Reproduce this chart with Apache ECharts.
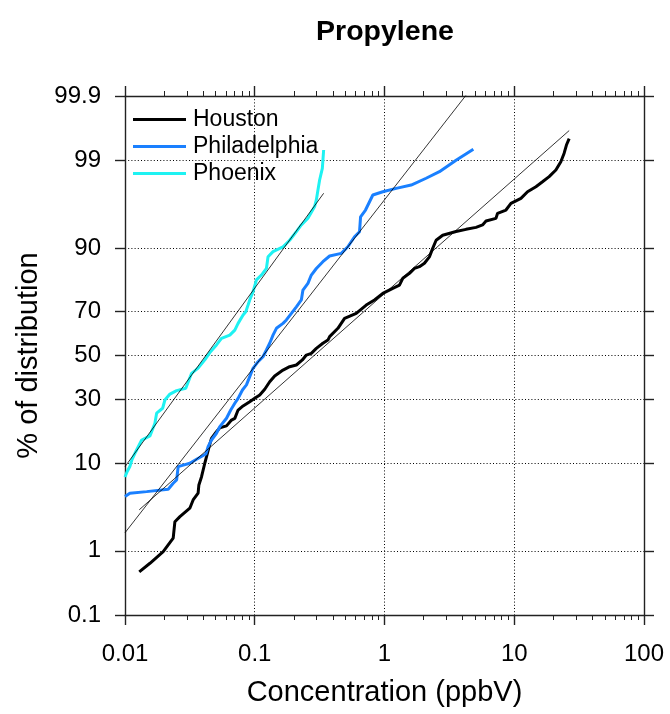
<!DOCTYPE html>
<html>
<head>
<meta charset="utf-8">
<script src="https://cdn.jsdelivr.net/npm/echarts@6/dist/echarts.min.js"></script>
<style>html,body{margin:0;padding:0;background:#fff}#c{width:670px;height:714px}</style>
</head>
<body>
<div id="c"></div>
<script>
// ---- data (concentration in ppbV, cumulative % of distribution) ----
const houstonX = [0.01288,0.01557,0.0197,0.02352,0.02424,0.0265,0.0316,0.0335,0.0366,0.0371,0.0389,0.0412,0.0425,0.0445,0.0464,0.0507,0.0538,0.0606,0.0662,0.0702,0.0744,0.0813,0.0915,0.100,0.1093,0.1194,0.1304,0.1425,0.1651,0.1858,0.2093,0.2327,0.2499,0.2729,0.2983,0.335,0.3664,0.3776,0.4375,0.4924,0.6057,0.7228,0.8372,0.970,1.158,1.304,1.383,1.557,1.701,1.858,2.031,2.218,2.352,2.499,2.809,3.56,4.25,5.076,5.70,6.057,7.228,7.44,8.63,9.43,11.26,12.66,14.69,16.51,18.58,20.93,22.86,24.24,25.25,26.5];
const houstonP = [0.50,0.668,0.975,1.48,2.39,2.75,3.45,4.27,5.05,6.16,7.45,9.97,11.41,13.88,16.2,18.2,19.5,20.1,22.1,22.7,25.8,27.4,29.1,30.5,31.9,34.4,37.75,40.4,43.1,44.7,45.5,47.9,50.2,51.0,53.4,55.8,57.3,58.9,62.7,67.1,69.2,72.6,74.6,77.0,78.8,79.9,82.1,83.6,85.0,85.5,86.4,88.0,89.9,91.5,92.4,93.0,93.35,93.65,94.0,94.53,94.88,95.48,95.84,96.5,96.93,97.44,97.78,98.07,98.34,98.64,98.95,99.20,99.39,99.51];

const phillyX = [0.0100,0.0109,0.01469,0.02153,0.02352,0.0250,0.0257,0.0273,0.0316,0.0356,0.0420,0.0437,0.0464,0.0507,0.0538,0.0606,0.0653,0.0702,0.0744,0.0804,0.0863,0.0915,0.0970,0.1060,0.1158,0.1230,0.1304,0.1383,0.1469,0.1651,0.1753,0.1916,0.2093,0.2286,0.2352,0.257,0.2729,0.2983,0.335,0.3776,0.4645,0.522,0.5875,0.642,0.654,0.714,0.813,0.970,1.23,1.605,2.093,2.65,3.56,4.84];
const phillyP = [4.65,5.05,5.25,5.56,6.41,6.92,9.28,9.48,9.97,10.83,12.04,13.88,15.72,17.72,19.83,22.73,25.83,28.47,30.5,34.06,36.3,40.05,43.95,47.05,49.4,52.6,55.8,59.6,62.7,64.9,66.4,69.2,71.9,74.6,78.2,80.5,83.1,85.0,86.8,88.2,88.8,90.23,92.13,92.98,95.07,95.84,97.2,97.44,97.67,97.88,98.26,98.57,99.0,99.30];

const phoenixX = [0.0100,0.0104,0.0109,0.0113,0.0121,0.01345,0.01557,0.0170,0.01753,0.0195,0.0203,0.0222,0.0250,0.0294,0.0326,0.0366,0.0412,0.0456,0.0507,0.0554,0.0642,0.0702,0.0744,0.0813,0.0853,0.0888,0.0915,0.0970,0.1031,0.1126,0.123,0.1266,0.1383,0.1651,0.1858,0.2093,0.2286,0.257,0.2894,0.2983,0.307,0.3162,0.3318,0.3396];
const phoenixP = [7.4,8.35,9.3,10.7,12.6,15.7,16.9,21.0,24.6,26.5,29.8,32.3,33.8,34.8,41.6,44.0,47.9,51.8,55.0,58.1,59.6,61.9,64.9,68.5,69.9,72.6,74.6,77.6,81.6,83.1,85.0,88.0,89.2,90.2,91.5,93.0,94.0,94.9,96.2,96.8,97.56,98.17,98.71,99.28];

// fitted lognormal lines (end points)
const houstonFitX = [0.01288, 26.5];
const houstonFitP = [3.31, 99.63];
const phillyFitX = [0.0100, 4.84];
const phillyFitP = [1.74, 99.934];
const phoenixFitX = [0.0100, 0.3396];
const phoenixFitP = [9.28, 97.33];

const seriesNames = ['Houston', 'Philadelphia', 'Phoenix'];
const yTickPct = [0.1, 1, 10, 30, 50, 70, 90, 99, 99.9];
const yTickLabels = ['0.1', '1', '10', '30', '50', '70', '90', '99', '99.9'];
const xMinorTicks = [0.02,0.03,0.04,0.05,0.06,0.07,0.08,0.09,0.2,0.3,0.4,0.5,0.6,0.7,0.8,0.9,2,3,4,5,6,7,8,9,20,30,40,50,60,70,80,90];

// ---- probability (normal quantile) transform ----
function normInv(p) {
  const a = [-3.969683028665376e+01, 2.209460984245205e+02, -2.759285104469687e+02, 1.383577518672690e+02, -3.066479806614716e+01, 2.506628277459239e+00];
  const b = [-5.447609879822406e+01, 1.615858368580409e+02, -1.556989798598866e+02, 6.680131188771972e+01, -1.328068155288572e+01];
  const c = [-7.784894002430293e-03, -3.223964580411365e-01, -2.400758402150994e+00, -2.549732539343734e+00, 4.374664141464968e+00, 2.938163982698783e+00];
  const d = [7.784695709041462e-03, 3.224671290700398e-01, 2.445134137142996e+00, 3.754408661907416e+00];
  const plow = 0.02425;
  let q, r;
  if (p < plow) {
    q = Math.sqrt(-2 * Math.log(p));
    return (((((c[0]*q+c[1])*q+c[2])*q+c[3])*q+c[4])*q+c[5]) / ((((d[0]*q+d[1])*q+d[2])*q+d[3])*q+1);
  } else if (p <= 1 - plow) {
    q = p - 0.5; r = q * q;
    return (((((a[0]*r+a[1])*r+a[2])*r+a[3])*r+a[4])*r+a[5])*q / (((((b[0]*r+b[1])*r+b[2])*r+b[3])*r+b[4])*r+1);
  } else {
    q = Math.sqrt(-2 * Math.log(1 - p));
    return -(((((c[0]*q+c[1])*q+c[2])*q+c[3])*q+c[4])*q+c[5]) / ((((d[0]*q+d[1])*q+d[2])*q+d[3])*q+1);
  }
}
const toZ = pct => normInv(pct / 100);
const pairs = (xs, ps) => xs.map((x, i) => [x, toZ(ps[i])]);

const yTickZ = yTickPct.map(toZ);
const zMin = yTickZ[0], zMax = yTickZ[yTickZ.length - 1];
const yLabelFmt = v => {
  let best = 0;
  yTickZ.forEach((z, i) => { if (Math.abs(z - v) < Math.abs(yTickZ[best] - v)) best = i; });
  return yTickLabels[best];
};

const FONT = "'Liberation Sans', Arial, sans-serif";
const dotted = { show: true, lineStyle: { color: '#000', width: 1, type: [1, 2.2] } };
const axisLineStyle = { show: true, onZero: false, lineStyle: { color: '#222', width: 1.4 } };
const noLine = { show: false, onZero: false };

const chart = echarts.init(document.getElementById('c'), null, { renderer: 'canvas' });

const colors = ['#000000', '#1a80ff', '#1ef2f2'];

chart.setOption({
  animation: false,
  backgroundColor: '#fff',
  title: {
    text: 'Propylene', left: 380, top: 13, textAlign: 'center',
    textStyle: { fontFamily: FONT, fontSize: 28.5, fontWeight: 'bold', color: '#000' }
  },
  legend: {
    data: seriesNames, orient: 'vertical', left: 128, top: 103,
    icon: 'rect', itemWidth: 53, itemHeight: 3, itemGap: 4,
    textStyle: { fontFamily: FONT, fontSize: 23, color: '#000', padding: [0, 0, 0, 2] }
  },
  grid: { left: 125, right: 26, top: 96, bottom: 99, containLabel: false },
  xAxis: [
    { type: 'log', logBase: 10, min: 0.01, max: 100, position: 'bottom',
      name: 'Concentration (ppbV)', nameLocation: 'middle', nameGap: 63,
      nameTextStyle: { fontFamily: FONT, fontSize: 29, color: '#000' },
      axisLine: axisLineStyle,
      axisTick: { show: true, length: 10, lineStyle: { color: '#222', width: 1.4 } },
      axisLabel: { fontFamily: FONT, fontSize: 24, color: '#000', margin: 27,
        formatter: v => String(+(+v).toPrecision(3)) },
      splitLine: dotted },
    { type: 'log', logBase: 10, min: 0.01, max: 100, position: 'bottom',
      axisLine: noLine,
      axisTick: { show: true, length: 5, customValues: xMinorTicks, lineStyle: { color: '#222', width: 1 } },
      axisLabel: { show: false }, splitLine: { show: false } },
    { type: 'log', logBase: 10, min: 0.01, max: 100, position: 'top',
      axisLine: axisLineStyle,
      axisTick: { show: true, length: 10, lineStyle: { color: '#222', width: 1.4 } },
      axisLabel: { show: false }, splitLine: { show: false } },
    { type: 'log', logBase: 10, min: 0.01, max: 100, position: 'top',
      axisLine: noLine,
      axisTick: { show: true, length: 5, customValues: xMinorTicks, lineStyle: { color: '#222', width: 1 } },
      axisLabel: { show: false }, splitLine: { show: false } }
  ],
  yAxis: [
    { type: 'value', min: zMin, max: zMax, position: 'left',
      name: '% of distribution', nameLocation: 'middle', nameGap: 82,
      nameTextStyle: { fontFamily: FONT, fontSize: 29, color: '#000' },
      axisLine: axisLineStyle,
      axisTick: { show: true, length: 10, customValues: yTickZ, lineStyle: { color: '#222', width: 1.4 } },
      axisLabel: { show: true, customValues: yTickZ, formatter: yLabelFmt,
        fontFamily: FONT, fontSize: 24, color: '#000', margin: 24 },
      splitLine: dotted },
    { type: 'value', min: zMin, max: zMax, position: 'right',
      axisLine: axisLineStyle,
      axisTick: { show: true, length: 10, customValues: yTickZ, lineStyle: { color: '#222', width: 1.4 } },
      axisLabel: { show: false }, splitLine: { show: false } }
  ],
  series: [
    { name: 'Houston', type: 'line', data: pairs(houstonX, houstonP), symbol: 'none',
      lineStyle: { color: colors[0], width: 3 }, itemStyle: { color: colors[0] } },
    { name: 'Philadelphia', type: 'line', data: pairs(phillyX, phillyP), symbol: 'none',
      lineStyle: { color: colors[1], width: 3 }, itemStyle: { color: colors[1] } },
    { name: 'Phoenix', type: 'line', data: pairs(phoenixX, phoenixP), symbol: 'none',
      lineStyle: { color: colors[2], width: 3 }, itemStyle: { color: colors[2] } },
    { name: 'Houston fit', type: 'line', data: pairs(houstonFitX, houstonFitP), symbol: 'none',
      lineStyle: { color: '#000', width: 0.8 } },
    { name: 'Philadelphia fit', type: 'line', data: pairs(phillyFitX, phillyFitP), symbol: 'none',
      lineStyle: { color: '#000', width: 0.8 } },
    { name: 'Phoenix fit', type: 'line', data: pairs(phoenixFitX, phoenixFitP), symbol: 'none',
      lineStyle: { color: '#000', width: 0.8 } }
  ]
});
</script>
</body>
</html>
